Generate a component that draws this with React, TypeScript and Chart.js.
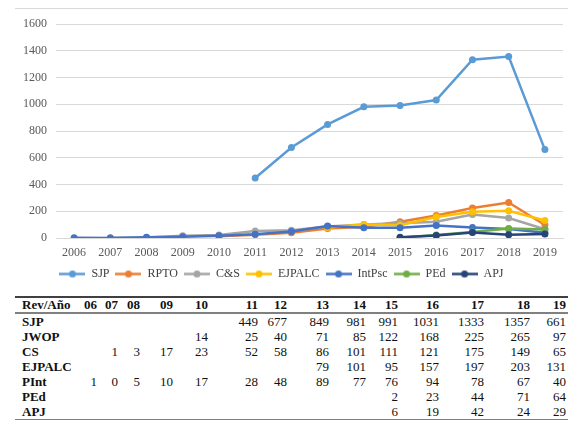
import React, { useEffect, useRef } from "react";
import { Chart, registerables } from "chart.js";

Chart.register(...registerables);

const years = ["2006", "2007", "2008", "2009", "2010", "2011", "2012", "2013", "2014", "2015", "2016", "2017", "2018", "2019"];
const yearShort = ["06", "07", "08", "09", "10", "11", "12", "13", "14", "15", "16", "17", "18", "19"];
const yTicks = [0, 200, 400, 600, 800, 1000, 1200, 1400, 1600];

const sjp = [null, null, null, null, null, 449, 677, 849, 981, 991, 1031, 1333, 1357, 661];
const rpto = [null, null, null, null, 14, 25, 40, 71, 85, 122, 168, 225, 265, 97];
const cs = [null, 1, 3, 17, 23, 52, 58, 86, 101, 111, 121, 175, 149, 65];
const ejpalc = [null, null, null, null, null, null, null, 79, 101, 95, 157, 197, 203, 131];
const intpsc = [1, 0, 5, 10, 17, 28, 48, 89, 77, 76, 94, 78, 67, 40];
const ped = [null, null, null, null, null, null, null, null, null, 2, 23, 44, 71, 64];
const apj = [null, null, null, null, null, null, null, null, null, 6, 19, 42, 24, 29];

const legendNames = ["SJP", "RPTO", "C&S", "EJPALC", "IntPsc", "PEd", "APJ"];
const tableNames = ["SJP", "JWOP", "CS", "EJPALC", "PInt", "PEd", "APJ"];
const seriesData = [sjp, rpto, cs, ejpalc, intpsc, ped, apj];
const colors = ["#5B9BD5", "#ED7D31", "#A5A5A5", "#FFC000", "#4472C4", "#70AD47", "#264478"];

const colWidths = [60, 22, 21, 22, 33, 35, 50, 29, 42, 37, 32, 41, 45, 46, 38];
const SERIF = "'Liberation Serif', 'Times New Roman', Times, 'DejaVu Serif', serif";

function legendIcon(color: string) {
  const c = document.createElement("canvas");
  c.width = 26;
  c.height = 9;
  const ctx = c.getContext("2d")!;
  ctx.strokeStyle = color;
  ctx.lineWidth = 2.5;
  ctx.beginPath();
  ctx.moveTo(0, 4.5);
  ctx.lineTo(26, 4.5);
  ctx.stroke();
  ctx.fillStyle = color;
  ctx.beginPath();
  ctx.arc(13, 4.5, 3.5, 0, Math.PI * 2);
  ctx.fill();
  return c;
}

export default function App() {
  const ref = useRef<HTMLCanvasElement | null>(null);

  useEffect(() => {
    document.body.style.margin = "0";
    const icons = colors.map(legendIcon);
    const chart = new Chart(ref.current!, {
      type: "line",
      data: {
        labels: years,
        datasets: seriesData.map((d, i) => ({
          label: legendNames[i],
          data: d,
          borderColor: colors[i],
          backgroundColor: colors[i],
          borderWidth: 2.5,
          pointRadius: 3.5,
          pointBorderWidth: 0,
          pointBackgroundColor: colors[i],
          spanGaps: false,
          order: 6 - i,
        })),
      },
      options: {
        animation: false,
        responsive: false,
        maintainAspectRatio: false,
        layout: { padding: { top: 24, right: 5, left: 0, bottom: 6 } },
        plugins: {
          tooltip: { enabled: false },
          legend: {
            position: "bottom",
            labels: {
              usePointStyle: true,
              pointStyleWidth: 26,
              padding: 6,
              color: "#404040",
              font: { family: SERIF, size: 12 },
              generateLabels: (ch: any) =>
                ch.data.datasets.map((ds: any, i: number) => ({
                  text: ds.label,
                  fillStyle: colors[i],
                  strokeStyle: colors[i],
                  lineWidth: 0,
                  pointStyle: icons[i],
                  hidden: false,
                  datasetIndex: i,
                  fontColor: "#404040",
                })),
            },
          },
        },
        scales: {
          x: {
            offset: true,
            afterFit: (s: any) => {
              s.height = 24;
            },
            grid: { display: false, drawTicks: false },
            border: { display: true, color: "#d9d9d9", width: 1 },
            ticks: {
              color: "#595959",
              padding: 8,
              maxRotation: 0,
              autoSkip: false,
              font: { family: SERIF, size: 12 },
            },
          },
          y: {
            min: 0,
            max: 1600,
            afterBuildTicks: (s: any) => {
              s.ticks = yTicks.map((v) => ({ value: v }));
            },
            afterFit: (s: any) => {
              s.width = 56;
            },
            grid: { color: "#d9d9d9", drawTicks: false, lineWidth: 1 },
            border: { display: false },
            ticks: {
              color: "#595959",
              padding: 9,
              font: { family: SERIF, size: 12 },
              callback: (v: any) => String(v),
            },
          },
        },
      },
    });
    return () => chart.destroy();
  }, []);

  const cellBase: React.CSSProperties = {
    padding: 0,
    textAlign: "right",
    whiteSpace: "nowrap",
  };

  return (
    <div style={{ position: "relative", width: 568, height: 421, overflow: "hidden", background: "#fff", fontFamily: SERIF }}>
      <div style={{ position: "absolute", left: 15, top: 8, width: 553, height: 0, borderTop: "1px solid #d9d9d9" }} />
      <canvas ref={ref} width={568} height={296} style={{ position: "absolute", left: 0, top: 0, width: 568, height: 296 }} />
      <table
        style={{
          position: "absolute",
          left: 15,
          top: 296,
          width: 553,
          borderCollapse: "collapse",
          tableLayout: "fixed",
          fontFamily: SERIF,
          fontSize: 13,
          color: "#111",
          background: "#fff",
        }}
      >
        <colgroup>
          {colWidths.map((w, i) => (
            <col key={i} style={{ width: w }} />
          ))}
        </colgroup>
        <thead>
          <tr style={{ borderTop: "2px solid #404040", borderBottom: "2px solid #808080" }}>
            <th style={{ ...cellBase, textAlign: "left", paddingLeft: 7, height: 14, lineHeight: "14px" }}>Rev/Año</th>
            {yearShort.map((y, i) => (
              <th key={y} style={{ ...cellBase, paddingRight: i === yearShort.length - 1 ? 2 : 0, lineHeight: "14px" }}>
                {y}
              </th>
            ))}
          </tr>
        </thead>
        <tbody>
          {tableNames.map((name, r) => (
            <tr key={name} style={r === tableNames.length - 1 ? { borderBottom: "1px solid #808080" } : undefined}>
              <td style={{ ...cellBase, textAlign: "left", paddingLeft: 7, fontWeight: "bold", height: 15, lineHeight: "15px" }}>{name}</td>
              {seriesData[r].map((v, i) => (
                <td key={i} style={{ ...cellBase, paddingRight: i === yearShort.length - 1 ? 2 : 0, lineHeight: "15px" }}>
                  {v === null ? "" : v}
                </td>
              ))}
            </tr>
          ))}
        </tbody>
      </table>
    </div>
  );
}
